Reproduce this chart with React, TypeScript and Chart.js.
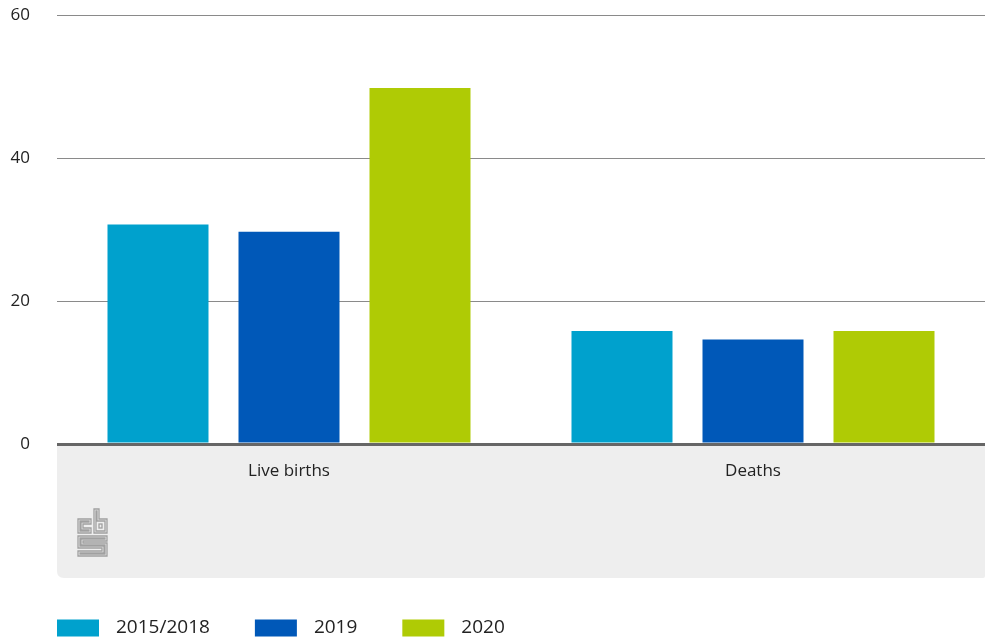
import React, { useEffect, useRef } from "react";
import { Chart, registerables } from "chart.js";

Chart.register(...registerables);

const categories = ["Live births", "Deaths"];
const seriesLabels = ["2015/2018", "2019", "2020"];
const values2015_2018 = [30.7, 15.8];
const values2019 = [29.7, 14.6];
const values2020 = [49.8, 15.8];
const seriesColors = ["#00a1cd", "#0058b8", "#afcb05"];
const yTicks = [0, 20, 40, 60];

const FONT = "'Open Sans', 'Noto Sans', sans-serif";

const panelPlugin = {
  id: "panelPlugin",
  beforeDraw(chart: any) {
    const { ctx, chartArea } = chart;
    const x0 = chartArea.left;
    const x1 = chart.width;
    const y0 = chartArea.bottom;
    const y1 = chart.scales.x.bottom;
    const r = 7;
    ctx.save();
    ctx.fillStyle = "#eeeeee";
    ctx.beginPath();
    ctx.moveTo(x0, y0);
    ctx.lineTo(x1, y0);
    ctx.lineTo(x1, y1 - 2);
    ctx.quadraticCurveTo(x1, y1, x1 - 2, y1);
    ctx.lineTo(x0 + r, y1);
    ctx.quadraticCurveTo(x0, y1, x0, y1 - r);
    ctx.closePath();
    ctx.fill();

    // CBS logo outline
    const lx = x0 + 21;
    const ly = y0 + 65;
    ctx.strokeStyle = "#a0a0a0";
    ctx.lineWidth = 1.3;
    const poly = (pts: number[][]) => {
      ctx.beginPath();
      pts.forEach((p, i) => (i === 0 ? ctx.moveTo(lx + p[0], ly + p[1]) : ctx.lineTo(lx + p[0], ly + p[1])));
      ctx.closePath();
      ctx.stroke();
    };
    // c
    poly([[0, 10], [13, 10], [13, 15], [5, 15], [5, 19], [13, 19], [13, 24], [0, 24]]);
    poly([[2, 12], [11, 12], [11, 13], [3, 13], [3, 21], [11, 21], [11, 22], [2, 22]]);
    // b
    poly([[16, 0], [21, 0], [21, 10], [29, 10], [29, 24], [16, 24]]);
    poly([[18, 2], [19, 2], [19, 12], [27, 12], [27, 22], [18, 22]]);
    ctx.strokeRect(lx + 21, ly + 15, 3, 4);
    // S
    poly([[0, 27], [29, 27], [29, 32], [5, 32], [5, 34], [29, 34], [29, 47], [0, 47], [0, 42], [24, 42], [24, 39], [0, 39]]);
    poly([[2, 29], [27, 29], [27, 30], [3, 30], [3, 36], [27, 36], [27, 45], [2, 45], [2, 44], [26, 44], [26, 37], [2, 37]]);
    ctx.restore();
  },
  afterDraw(chart: any) {
    const { ctx } = chart;
    ctx.save();
    ctx.font = `19px ${FONT}`;
    ctx.textBaseline = "middle";
    ctx.textAlign = "left";
    let x = chart.chartArea.left;
    const yc = 628;
    chart.data.datasets.forEach((ds: any) => {
      ctx.fillStyle = ds.backgroundColor;
      ctx.fillRect(x, yc - 8.5, 42, 17);
      ctx.fillStyle = "#222222";
      ctx.fillText(ds.label, x + 59, yc);
      x += 59 + ctx.measureText(ds.label).width + 45;
    });
    ctx.restore();
  },
};

export default function App() {
  const ref = useRef<HTMLCanvasElement | null>(null);
  useEffect(() => {
    if (!ref.current) return;
    const seriesValues = [values2015_2018, values2019, values2020];
    const chart = new Chart(ref.current, {
      type: "bar",
      data: {
        labels: categories,
        datasets: seriesLabels.map((label, i) => ({
          label,
          data: seriesValues[i],
          backgroundColor: seriesColors[i],
          borderWidth: 0,
          categoryPercentage: 0.847,
          barPercentage: 0.771,
        })),
      },
      options: {
        animation: false,
        responsive: false,
        maintainAspectRatio: false,
        layout: { padding: { top: 15, left: 0, right: 0, bottom: 61 } },
        plugins: {
          legend: { display: false },
          tooltip: { enabled: false },
        },
        scales: {
          x: {
            grid: { display: false },
            border: { display: false },
            ticks: {
              color: "#222222",
              font: { family: FONT, size: 17 },
              padding: 9,
            },
            afterFit: (s: any) => {
              s.height = 134;
            },
          },
          y: {
            min: 0,
            max: 60,
            afterBuildTicks: (s: any) => {
              s.ticks = yTicks.map((v) => ({ value: v }));
            },
            grid: {
              drawTicks: false,
              color: (c: any) => (c.tick && c.tick.value === 0 ? "#666666" : "#8a8a8a"),
              lineWidth: (c: any) => (c.tick && c.tick.value === 0 ? 3 : 1),
            },
            border: { display: false },
            ticks: {
              color: "#222222",
              font: { family: FONT, size: 17 },
              padding: 27,
            },
            afterFit: (s: any) => {
              s.width = 57;
              s.paddingTop = 0;
              s.paddingBottom = 0;
            },
          },
        },
      },
      plugins: [panelPlugin],
    });
    return () => chart.destroy();
  }, []);
  return (
    <div style={{ position: "absolute", left: 0, top: 0, width: 985, height: 639, background: "#fff" }}>
      <canvas ref={ref} width={985} height={639} />
    </div>
  );
}
